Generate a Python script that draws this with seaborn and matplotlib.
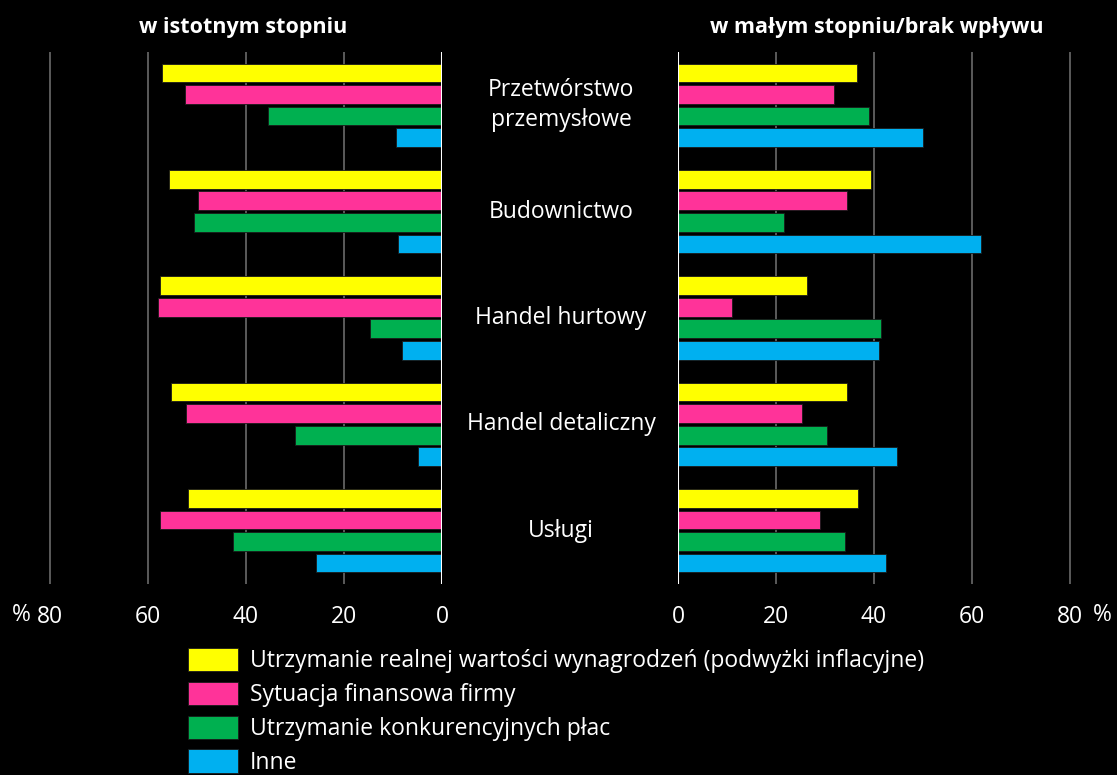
import pandas as pd
import numpy as np
import matplotlib.pyplot as plt
import matplotlib.transforms as mtransforms
from matplotlib.patches import Patch
import seaborn as sns

# Dane
sectors = ['Przetwórstwo\nprzemysłowe', 'Budownictwo', 'Handel hurtowy',
           'Handel detaliczny', 'Usługi']
series = ['Utrzymanie realnej wartości wynagrodzeń (podwyżki inflacyjne)',
          'Sytuacja finansowa firmy',
          'Utrzymanie konkurencyjnych płac',
          'Inne']
colors = ['#FFFF00', '#FF3399', '#00B050', '#00B0F0']

# w istotnym stopniu (%)
left_yellow = [57.1, 55.7, 57.6, 55.3, 51.8]
left_pink = [52.4, 49.8, 58.0, 52.2, 57.6]
left_green = [35.5, 50.6, 14.7, 30.0, 42.7]
left_blue = [9.4, 9.0, 8.2, 4.9, 25.7]

# w malym stopniu / brak wplywu (%)
right_yellow = [36.5, 39.4, 26.3, 34.5, 36.7]
right_pink = [31.8, 34.5, 11.0, 25.3, 29.0]
right_green = [39.0, 21.6, 41.4, 30.4, 34.1]
right_blue = [50.0, 61.8, 41.0, 44.7, 42.4]

ticks = [0, 20, 40, 60, 80]


def long_df(cols):
    rows = []
    for s, vals in zip(series, cols):
        for sec, v in zip(sectors, vals):
            rows.append({'Sektor': sec, 'Seria': s, 'Wartosc': v})
    return pd.DataFrame(rows)


df_left = long_df([left_yellow, left_pink, left_green, left_blue])
df_right = long_df([right_yellow, right_pink, right_green, right_blue])

sns.set_style('dark')
plt.rcParams['font.family'] = ['Open Sans', 'DejaVu Sans']
plt.rcParams['text.color'] = 'white'

FS = 16.5
W, H = 1117, 775
fig = plt.figure(figsize=(W / 100, H / 100), dpi=100, facecolor='black')

y0, y1 = 584, 52
ax_l = fig.add_axes([45 / W, 1 - y0 / H, (442 - 45) / W, (y0 - y1) / H])
ax_r = fig.add_axes([678 / W, 1 - y0 / H, (1075 - 678) / W, (y0 - y1) / H])

for ax, df in [(ax_l, df_left), (ax_r, df_right)]:
    ax.set_facecolor('black')
    sns.barplot(data=df, x='Wartosc', y='Sektor', hue='Seria', orient='h',
                palette=colors, hue_order=series, order=sectors, saturation=1,
                width=0.81, gap=0.13, legend=False, ax=ax,
                edgecolor='#1a1a1a', linewidth=0.6)
    ax.set_axisbelow(True)
    ax.grid(axis='x', color='#6a6a6a', linewidth=1.2)
    ax.grid(axis='y', visible=False)
    ax.axvline(0, color='white', linewidth=1.5, zorder=3)
    for sp in ax.spines.values():
        sp.set_visible(False)
    ax.set_ylim(4.5, -0.5)
    ax.set_yticks([])
    ax.set_xticks(ticks)
    ax.set_xticklabels([str(t) for t in ticks])
    ax.tick_params(axis='x', length=0, pad=15, labelsize=FS, colors='white')
    ax.set_xlabel('')
    ax.set_ylabel('')

ax_l.set_xlim(81, 0)
ax_r.set_xlim(0, 81)

ax_l.set_title('w istotnym stopniu', fontsize=15.5, fontweight='bold',
               color='white', pad=14)
ax_r.set_title('w małym stopniu/brak wpływu', fontsize=15.5, fontweight='bold',
               color='white', pad=14)

# znak procentu przy 80
fig.text(12 / W, 1 - 615 / H, '%', ha='left', va='center', fontsize=FS, color='white')
fig.text(1093 / W, 1 - 615 / H, '%', ha='left', va='center', fontsize=FS, color='white')

# etykiety sektorow
tr = mtransforms.blended_transform_factory(fig.transFigure, ax_r.transData)
for i, sec in enumerate(sectors):
    ax_r.text(561 / W, i, sec, transform=tr, ha='center', va='center',
              fontsize=FS, color='white', linespacing=1.3)

handles = [Patch(facecolor=c, edgecolor='#1a1a1a', linewidth=0.6) for c in colors]
fig.legend(handles, series, loc='upper left', bbox_to_anchor=(188 / W, 1 - 648 / H),
           frameon=False, fontsize=FS, handlelength=2.2, handleheight=1.18,
           labelspacing=0.37, handletextpad=0.5, borderpad=0, borderaxespad=0,
           labelcolor='white')

plt.savefig('out.png', dpi=100, facecolor='black')
plt.close()
